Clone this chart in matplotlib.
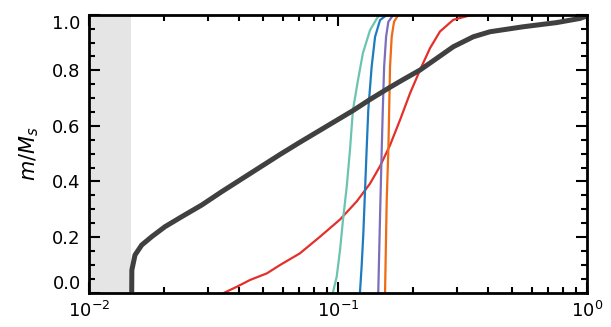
import numpy as np
import matplotlib
matplotlib.use('Agg')
import matplotlib.pyplot as plt
from matplotlib.ticker import LogLocator, MultipleLocator, NullFormatter

# grey: full profile
gray_x = [0.01484, 0.01486, 0.0153, 0.01628, 0.01786, 0.02019, 0.02357, 0.02836,
          0.03411, 0.05848, 0.0703, 0.1148, 0.1344, 0.1617, 0.1829, 0.2134,
          0.249, 0.2904, 0.3495, 0.4077, 0.5548, 0.7555, 0.9373, 1.0]
gray_y = [0.0, 0.081, 0.135, 0.171, 0.201, 0.237, 0.273, 0.315,
          0.363, 0.497, 0.541, 0.655, 0.695, 0.739, 0.767, 0.801,
          0.843, 0.885, 0.921, 0.939, 0.957, 0.972, 0.987, 0.996]

red_x = [0.0351, 0.0395, 0.0443, 0.0518, 0.0585, 0.0703, 0.0847, 0.1019, 0.1189,
         0.1344, 0.1475, 0.1617, 0.1774, 0.1946, 0.2134, 0.2342, 0.2568, 0.2904,
         0.3389, 0.3716, 1.0]
red_y = [0.0, 0.022, 0.045, 0.069, 0.099, 0.141, 0.201, 0.263, 0.328,
         0.392, 0.455, 0.53, 0.621, 0.717, 0.801, 0.88, 0.94, 0.982,
         0.998, 1.0, 1.0]

teal_x = [0.0954, 0.0988, 0.1019, 0.1047, 0.1084, 0.1117, 0.1148, 0.1203, 0.1259,
          0.1345, 0.1435, 0.1475, 1.0]
teal_y = [0.0, 0.057, 0.153, 0.261, 0.381, 0.513, 0.657, 0.765, 0.862,
          0.945, 0.988, 1.0, 1.0]

blue_x = [0.1225, 0.1244, 0.1264, 0.1303, 0.1323, 0.1365, 0.1409, 0.1475, 0.1572, 1.0]
blue_y = [0.0, 0.093, 0.213, 0.513, 0.657, 0.813, 0.921, 0.981, 1.0, 1.0]

purple_x = [0.1451, 0.1475, 0.1498, 0.1513, 0.1532, 0.1560, 0.1593, 0.1668, 1.0]
purple_y = [0.0, 0.273, 0.513, 0.657, 0.813, 0.921, 0.975, 1.0, 1.0]

orange_x = [0.1545, 0.1569, 0.1593, 0.1618, 0.1643, 0.1679, 0.1747, 1.0]
orange_y = [0.0, 0.333, 0.513, 0.813, 0.921, 0.975, 1.0, 1.0]

shade_lo, shade_hi = 0.01, 0.0148

plt.rcParams['font.family'] = 'DejaVu Sans'
fig = plt.figure(figsize=(6.11, 3.27), dpi=100)
ax = fig.add_axes([0.1457, 0.1055, 0.815, 0.8492])

ax.axvspan(shade_lo, shade_hi, color='#e5e5e5', lw=0, zorder=0)

ax.plot(red_x, red_y, color='#e4302a', lw=1.6)
ax.plot(teal_x, teal_y, color='#6cc4b0', lw=1.6)
ax.plot(blue_x, blue_y, color='#1f7bbf', lw=1.6)
ax.plot(purple_x, purple_y, color='#7b6fbb', lw=1.6)
ax.plot(orange_x, orange_y, color='#ef6a12', lw=1.6)
ax.plot(gray_x, gray_y, color='#404040', lw=3.6, solid_capstyle='butt')

ax.set_xscale('log')
ax.set_xlim(0.01, 1.0)
ax.set_ylim(0, 1)
ax.xaxis.set_major_locator(LogLocator(base=10))
ax.xaxis.set_minor_locator(LogLocator(base=10, subs=np.arange(2, 10)))
ax.xaxis.set_minor_formatter(NullFormatter())
ax.yaxis.set_major_locator(MultipleLocator(0.2))
ax.yaxis.set_minor_locator(MultipleLocator(0.05))
ax.yaxis.set_major_formatter(plt.FuncFormatter(lambda v, p: f'{v:.1f}'))

ax.tick_params(which='both', direction='in', top=True, right=True,
               labelsize=13, width=1.5, colors='black')
ax.tick_params(which='major', length=8, pad=6)
ax.tick_params(which='minor', length=4)
for s in ax.spines.values():
    s.set_linewidth(2)

ax.set_ylabel(r'$m/M_s$', fontsize=15, labelpad=8)

# end labels sit inside the axis range, like the original
fig.canvas.draw()
for t in ax.yaxis.get_major_ticks():
    v = t.get_loc()
    if abs(v) < 1e-6:
        t.label1.set_va('bottom')
    elif abs(v - 1) < 1e-6:
        t.label1.set_va('top')

fig.savefig('out.png', dpi=100)
